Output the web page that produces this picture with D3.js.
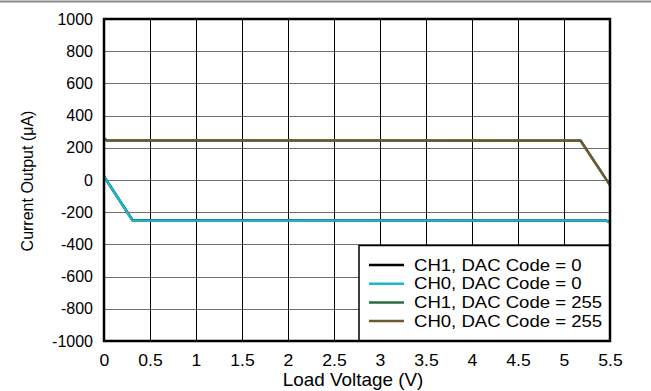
<!DOCTYPE html>
<html><head><meta charset="utf-8">
<script src="https://cdn.jsdelivr.net/npm/d3@7"></script>
<style>body{margin:0;background:#fff;}svg{display:block;font-family:"Liberation Sans",Arial,sans-serif;}</style>
</head><body>
<svg id="c" width="651" height="391"></svg>
<script>
const xTicks = [0,0.5,1,1.5,2,2.5,3,3.5,4,4.5,5,5.5];
const xTickLabels = ["0","0.5","1","1.5","2","2.5","3","3.5","4","4.5","5","5.5"];
const yTicks = [-1000,-800,-600,-400,-200,0,200,400,600,800,1000];
const seriesNames = ["CH1, DAC Code = 0","CH0, DAC Code = 0","CH1, DAC Code = 255","CH0, DAC Code = 255"];
const seriesColors = ["#000000","#1ab8c8","#2a6b47","#6d5a33"];
const ch1Code0 = [[0,22],[0.31,-250],[5.45,-251],[5.5,-262]];
const ch0Code0 = [[0,22],[0.31,-251],[5.45,-252],[5.5,-264]];
const ch1Code255 = [[0,258],[0.03,246],[5.18,245],[5.5,-32]];
const ch0Code255 = [[0,258],[0.03,245],[5.18,244],[5.5,-32]];
const seriesData = [ch1Code0, ch0Code0, ch1Code255, ch0Code255];

const svg = d3.select("#c");
const L=104, R=610, T=19, B=341;
const x = d3.scaleLinear().domain([0,5.5]).range([L,R]);
const y = d3.scaleLinear().domain([-1000,1000]).range([B,T]);

// top gray rule
svg.append("line").attr("x1",0).attr("x2",651).attr("y1",1.5).attr("y2",1.5).attr("stroke","#8a8a8a").attr("stroke-width",2);

// grid
svg.append("g").selectAll("line").data(yTicks.slice(1,-1)).join("line")
  .attr("x1",L).attr("x2",R).attr("y1",d=>Math.round(y(d))+0.5).attr("y2",d=>Math.round(y(d))+0.5)
  .attr("stroke","#6e6e6e").attr("stroke-width",1.2);
svg.append("g").selectAll("line").data(xTicks.slice(1,-1)).join("line")
  .attr("y1",T).attr("y2",B).attr("x1",d=>Math.round(x(d))+0.5).attr("x2",d=>Math.round(x(d))+0.5)
  .attr("stroke","#000").attr("stroke-width",1);

// axes labels via d3 axes
const yAxis = svg.append("g").attr("transform",`translate(${L},0)`)
  .call(d3.axisLeft(y).tickValues(yTicks).tickSize(0).tickPadding(11).tickFormat(d=>String(d)));
yAxis.select(".domain").remove();
yAxis.selectAll("text").attr("font-size",16).attr("fill","#000").attr("font-family","Liberation Sans, Arial, sans-serif");
const xAxis = svg.append("g").attr("transform",`translate(0,${B})`)
  .call(d3.axisBottom(x).tickValues(xTicks).tickSize(0).tickPadding(14).tickFormat((d,i)=>xTickLabels[i]));
xAxis.select(".domain").remove();
xAxis.selectAll("text").attr("font-size",16).attr("fill","#000").attr("font-family","Liberation Sans, Arial, sans-serif")
  .attr("transform",function(){return "scale(1.1,1)";}).attr("x",function(d){return 0;});
// keep tick labels centered while stretched
xAxis.selectAll(".tick").each(function(d){
  const g=d3.select(this);
  g.select("text").attr("transform","scale(1.1,1)");
});

// lines
const line = d3.line().x(d=>x(d[0])).y(d=>y(d[1]));
svg.append("defs").append("clipPath").attr("id","clip").append("rect").attr("x",L).attr("y",T).attr("width",R-L).attr("height",B-T);
svg.append("g").attr("clip-path","url(#clip)").selectAll("path").data(seriesData).join("path")
  .attr("d",line).attr("fill","none").attr("stroke",(d,i)=>seriesColors[i]).attr("stroke-width",2.5).attr("stroke-linejoin","round");

// legend
const lg = svg.append("g");
lg.append("rect").attr("x",359).attr("y",245.5).attr("width",R-359).attr("height",B-245.5).attr("fill","#fff").attr("stroke","#000").attr("stroke-width",1.5);
seriesNames.forEach((n,i)=>{
  const yy = 265 + i*18.7;
  lg.append("line").attr("x1",369).attr("x2",404).attr("y1",yy).attr("y2",yy).attr("stroke",seriesColors[i]).attr("stroke-width",2.5);
  lg.append("text").attr("transform",`translate(414,${yy+5.5}) scale(1.16,1)`).attr("font-size",16).text(n);
});

// frame
svg.append("rect").attr("x",L).attr("y",T).attr("width",R-L).attr("height",B-T).attr("fill","none").attr("stroke","#000").attr("stroke-width",2.5);

// titles
svg.append("text").attr("transform",`translate(${(L+R)/2-4},386) scale(1.05,1)`).attr("text-anchor","middle").attr("font-size",18).text("Load Voltage (V)");
svg.append("text").attr("transform",`translate(32.5,181) rotate(-90)`).attr("text-anchor","middle").attr("font-size",16).text("Current Output (\u03bcA)");
</script>
</body></html>
